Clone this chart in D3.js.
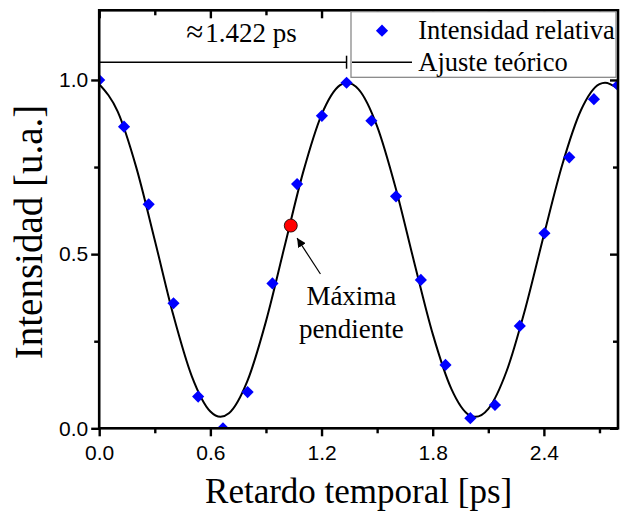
<!DOCTYPE html>
<html>
<head>
<meta charset="utf-8">
<script src="https://cdn.jsdelivr.net/npm/d3@7/dist/d3.min.js"></script>
<style>
  html, body { margin: 0; padding: 0; background: #fff; }
  svg { display: block; }
</style>
</head>
<body>
<svg id="chart" width="620" height="514"></svg>
<script>
// ---------- data ----------
const delayPs = [0.000, 0.134, 0.267, 0.401, 0.534, 0.668, 0.801, 0.935, 1.068, 1.202, 1.335,
                 1.469, 1.602, 1.736, 1.869, 2.003, 2.136, 2.270, 2.403, 2.537, 2.670, 2.800];
const intensity = [1.000, 0.866, 0.643, 0.359, 0.091, 0.000, 0.104, 0.416, 0.701, 0.897, 0.992,
                   0.883, 0.666, 0.426, 0.182, 0.029, 0.067, 0.294, 0.560, 0.778, 0.945, 0.985];

const fitX = [0.0, 0.1, 0.2, 0.3, 0.4, 0.5, 0.6, 0.655, 0.7, 0.8, 0.9, 1.0, 1.1, 1.2, 1.3, 1.337,
              1.4, 1.5, 1.6, 1.7, 1.8, 1.9, 2.0, 2.03, 2.1, 2.2, 2.3, 2.4, 2.5, 2.6, 2.7, 2.73, 2.8];
const fitY = [0.988, 0.909, 0.749, 0.540, 0.325, 0.149, 0.048, 0.033, 0.043, 0.136, 0.307, 0.521,
              0.734, 0.900, 0.985, 0.992, 0.973, 0.867, 0.690, 0.477, 0.271, 0.114, 0.037, 0.033,
              0.056, 0.166, 0.344, 0.555, 0.758, 0.913, 0.988, 0.992, 0.975];

const maxSlopePoint = [1.034, 0.582];

const xTicksMajor = [0.0, 0.6, 1.2, 1.8, 2.4];
const xTicksMinor = [0.3, 0.9, 1.5, 2.1, 2.7];
const yTicksMajor = [0.0, 0.5, 1.0];
const yTicksMinor = [0.25, 0.75];

const xDomain = [0, 2.8];
const yDomain = [0, 1.2];

const periodSymbol = "\u2248";
const periodValue = "1.422 ps";
const legendLabels = ["Intensidad relativa", "Ajuste te\u00f3rico"];
const annotationLines = ["M\u00e1xima", "pendiente"];
const xTitle = "Retardo temporal [ps]";
const yTitle = "Intensidad [u.a.]";

// ---------- layout ----------
const L = 99.2, R = 618, T = 10.3, B = 428.3;
const svg = d3.select("#chart");
const x = d3.scaleLinear().domain(xDomain).range([L, R]);
const y = d3.scaleLinear().domain(yDomain).range([B, T]);

const serif = "'Liberation Serif', 'Times New Roman', serif";
const sans = "'Liberation Sans', Arial, sans-serif";

svg.append("rect").attr("width", 620).attr("height", 514).attr("fill", "#fff");

svg.append("defs").append("clipPath").attr("id", "plotclip")
  .append("rect").attr("x", L).attr("y", T).attr("width", R - L).attr("height", B - T);

const plot = svg.append("g").attr("clip-path", "url(#plotclip)");

// fitted curve
const line = d3.line().x((d, i) => x(fitX[i])).y((d, i) => y(fitY[i])).curve(d3.curveMonotoneX);
plot.append("path").datum(fitX).attr("d", line)
  .attr("fill", "none").attr("stroke", "#000").attr("stroke-width", 2);

// diamonds
const diamond = d3.symbol().type(d3.symbolSquare).size(74);
plot.selectAll("path.pt").data(delayPs).join("path").attr("class", "pt")
  .attr("d", diamond)
  .attr("transform", (d, i) => `translate(${x(d)},${y(intensity[i])}) rotate(45)`)
  .attr("fill", "#0000ff");

// ---------- axes ----------
function styleAxis(g) {
  g.select(".domain").remove();
  g.selectAll(".tick line").attr("stroke", "#000").attr("stroke-width", 2.4);
  g.selectAll(".tick text").attr("fill", "#000").style("font-family", sans).style("font-size", "21px");
}
svg.append("g").attr("transform", `translate(0,${B})`)
  .call(d3.axisBottom(x).tickValues(xTicksMajor).tickSize(8).tickPadding(9).tickFormat(d3.format(".1f")))
  .call(styleAxis);
svg.append("g").attr("transform", `translate(0,${B})`)
  .call(d3.axisBottom(x).tickValues(xTicksMinor).tickSize(5).tickFormat(""))
  .call(styleAxis);
svg.append("g").attr("transform", `translate(${L},0)`)
  .call(d3.axisLeft(y).tickValues(yTicksMajor).tickSize(8).tickPadding(3).tickFormat(d3.format(".1f")))
  .call(styleAxis);
svg.append("g").attr("transform", `translate(${L},0)`)
  .call(d3.axisLeft(y).tickValues(yTicksMinor).tickSize(5).tickFormat(""))
  .call(styleAxis);
// mirrored inward ticks
svg.append("g").attr("transform", `translate(0,${T})`)
  .call(d3.axisTop(x).tickValues(xTicksMajor).tickSize(-8).tickFormat(""))
  .call(styleAxis);
svg.append("g").attr("transform", `translate(0,${T})`)
  .call(d3.axisTop(x).tickValues(xTicksMinor).tickSize(-5).tickFormat(""))
  .call(styleAxis);
svg.append("g").attr("transform", `translate(${R},0)`)
  .call(d3.axisRight(y).tickValues(yTicksMajor).tickSize(-8).tickFormat(""))
  .call(styleAxis);
svg.append("g").attr("transform", `translate(${R},0)`)
  .call(d3.axisRight(y).tickValues(yTicksMinor).tickSize(-5).tickFormat(""))
  .call(styleAxis);

// frame
svg.append("rect").attr("x", L).attr("y", T).attr("width", R - L).attr("height", B - T)
  .attr("fill", "none").attr("stroke", "#000").attr("stroke-width", 2.6);

// ---------- period bracket ----------
const bracketY = y(1.051);
svg.append("line").attr("x1", x(0)).attr("x2", x(delayPs[10])).attr("y1", bracketY).attr("y2", bracketY)
  .attr("stroke", "#000").attr("stroke-width", 1.5);
svg.append("line").attr("x1", x(delayPs[10])).attr("x2", x(delayPs[10]))
  .attr("y1", bracketY - 6.5).attr("y2", bracketY + 6.5)
  .attr("stroke", "#000").attr("stroke-width", 1.5);
const pt = svg.append("text").attr("x", x(0.768)).attr("y", y(1.11)).attr("text-anchor", "middle")
  .style("font-family", serif).style("font-size", "27px").attr("fill", "#000");
pt.append("tspan").style("font-size", "31px").text(periodSymbol);
pt.append("tspan").attr("dx", 2).text(periodValue);

// ---------- legend ----------
const lg = svg.append("g");
const lgX0 = 351, lgY0 = 11.7, lgW = 265, lgH = 65.6;
lg.append("rect").attr("x", lgX0).attr("y", lgY0).attr("width", lgW).attr("height", lgH)
  .attr("fill", "#fff").attr("stroke", "#808080").attr("stroke-width", 1.2);
lg.append("path").attr("d", diamond).attr("transform", `translate(382,30.7) rotate(45)`).attr("fill", "#0000ff");
lg.append("line").attr("x1", 352).attr("x2", 412).attr("y1", 62.3).attr("y2", 62.3)
  .attr("stroke", "#000").attr("stroke-width", 1.5);
lg.selectAll("text").data(legendLabels).join("text")
  .attr("x", 418.3).attr("y", (d, i) => [39.3, 70.7][i])
  .style("font-family", serif).style("font-size", "26.5px").attr("fill", "#000")
  .text(d => d);

// ---------- max slope marker & annotation ----------
svg.append("circle").attr("cx", x(maxSlopePoint[0])).attr("cy", y(maxSlopePoint[1])).attr("r", 6.5)
  .attr("fill", "#ff0000").attr("stroke", "#000").attr("stroke-width", 0.8);

svg.append("defs").append("marker").attr("id", "arrow").attr("viewBox", "0 0 10 10")
  .attr("refX", 10).attr("refY", 5).attr("markerWidth", 9).attr("markerHeight", 9)
  .attr("markerUnits", "userSpaceOnUse").attr("orient", "auto")
  .append("path").attr("d", "M0,0 L10,5 L0,10 Z").attr("fill", "#000");
svg.append("line").attr("x1", x(1.194)).attr("y1", y(0.443)).attr("x2", x(1.068)).attr("y2", y(0.546))
  .attr("stroke", "#000").attr("stroke-width", 1.2).attr("marker-end", "url(#arrow)");

svg.selectAll("text.ann").data(annotationLines).join("text").attr("class", "ann")
  .attr("x", x(1.361)).attr("y", (d, i) => y([0.354, 0.259][i])).attr("text-anchor", "middle")
  .style("font-family", serif).style("font-size", "27px").attr("fill", "#000")
  .text(d => d);

// ---------- axis titles ----------
svg.append("text").attr("x", (L + R) / 2).attr("y", 503).attr("text-anchor", "middle")
  .style("font-family", serif).style("font-size", "35px").attr("fill", "#000").text(xTitle);
svg.append("text").attr("transform", `translate(42,232) rotate(-90)`).attr("text-anchor", "middle")
  .style("font-family", serif).style("font-size", "39px").attr("fill", "#000").text(yTitle);
</script>
</body>
</html>
